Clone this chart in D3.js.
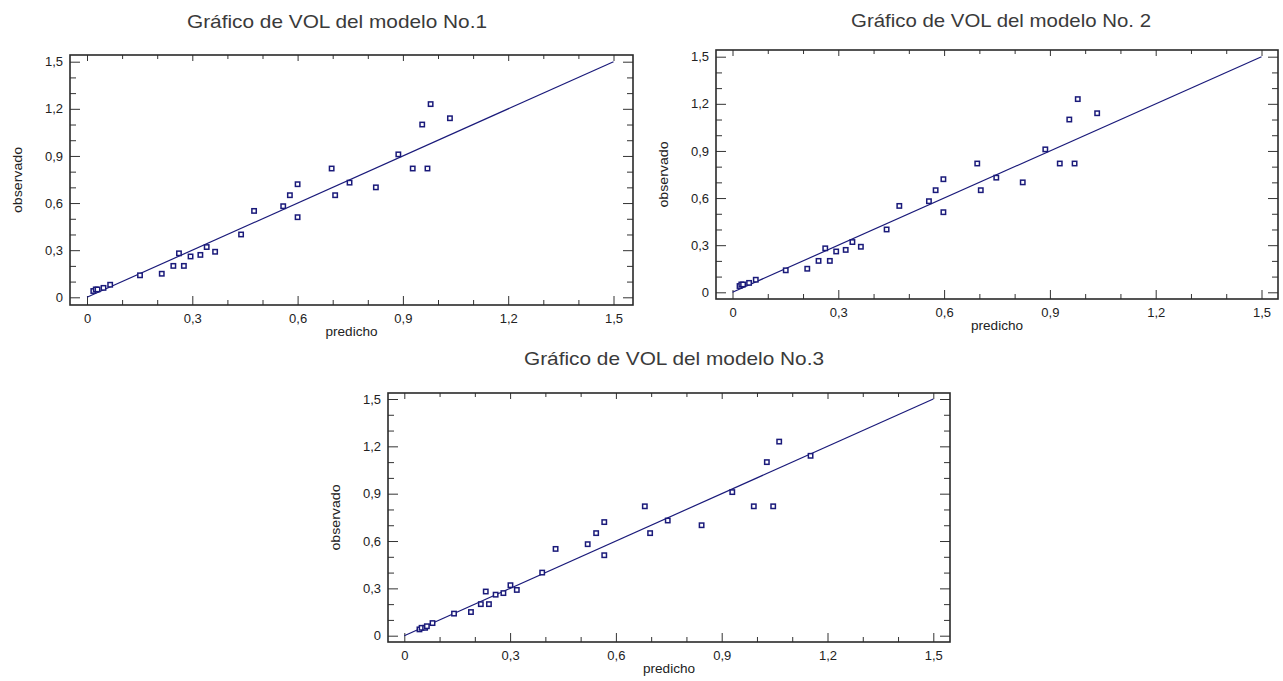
<!DOCTYPE html>
<html>
<head>
<meta charset="utf-8">
<script src="https://cdn.jsdelivr.net/npm/d3@7"></script>
<style>
  body { margin: 0; background: #fff; }
  svg { display: block; }
  text { font-family: "Liberation Sans", Arial, sans-serif; fill: #222; }
</style>
</head>
<body>
<svg id="chart" width="1283" height="681"></svg>
<script>
// observed values (same for all three models)
const observado = [0.04, 0.05, 0.05, 0.06, 0.08, 0.14, 0.15, 0.20, 0.28, 0.20, 0.26, 0.27, 0.32, 0.29, 0.40,
  0.55, 0.58, 0.65, 0.72, 0.51, 0.82, 0.65, 0.73, 0.70, 0.91, 0.82, 1.10, 0.82, 1.23, 1.14];

// predicted values per model
const predicho1 = [0.018, 0.025, 0.030, 0.047, 0.066, 0.151, 0.213, 0.246, 0.262, 0.276, 0.295, 0.323, 0.341, 0.365, 0.439,
  0.476, 0.559, 0.578, 0.600, 0.600, 0.697, 0.707, 0.748, 0.823, 0.887, 0.928, 0.955, 0.970, 0.979, 1.034];
const predicho2 = [0.020, 0.025, 0.030, 0.047, 0.066, 0.151, 0.212, 0.244, 0.263, 0.276, 0.294, 0.321, 0.340, 0.364, 0.437,
  0.473, 0.557, 0.576, 0.598, 0.598, 0.694, 0.704, 0.748, 0.823, 0.887, 0.928, 0.955, 0.970, 0.979, 1.034];
const predicho3 = [0.043, 0.049, 0.059, 0.064, 0.080, 0.141, 0.189, 0.217, 0.231, 0.240, 0.259, 0.281, 0.301, 0.319, 0.391,
  0.429, 0.520, 0.544, 0.567, 0.567, 0.682, 0.697, 0.747, 0.843, 0.930, 0.991, 1.028, 1.046, 1.063, 1.152];

const titles = ["Gráfico de VOL del modelo No.1", "Gráfico de VOL del modelo No. 2", "Gráfico de VOL del modelo No.3"];
const majorTicks = [0, 0.3, 0.6, 0.9, 1.2, 1.5];
const minorTicks = [0.1, 0.2, 0.4, 0.5, 0.7, 0.8, 1.0, 1.1, 1.3, 1.4];
const fitLine = [0, 1.5];

const panels = [
  { pred: predicho1, frame: [70, 55, 633, 305], x: [87, 613.5], y: [297.3, 61.7], title: [337, 28] },
  { pred: predicho2, frame: [716, 50, 1278, 299], x: [732.5, 1261.5], y: [292.3, 56.7], title: [1001, 27] },
  { pred: predicho3, frame: [388, 393, 950, 642], x: [404.3, 933.3], y: [635.7, 399], title: [674, 365] }
];

const fmt = d => d === 0 ? "0" : d.toFixed(1).replace(".", ",");
const ink = "#1a1a7a";

const svg = d3.select("#chart");

panels.forEach((p, i) => {
  const [fx0, fy0, fx1, fy1] = p.frame;
  const x = d3.scaleLinear().domain([0, 1.5]).range(p.x);
  const y = d3.scaleLinear().domain([0, 1.5]).range(p.y);
  const g = svg.append("g");

  // title
  g.append("text")
    .attr("x", p.title[0]).attr("y", p.title[1])
    .attr("text-anchor", "middle")
    .attr("textLength", 300).attr("lengthAdjust", "spacingAndGlyphs")
    .style("font-size", "19px")
    .style("fill", "#3a3a3a")
    .text(titles[i]);

  // axes: major ticks with labels, minor ticks without, all pointing inward
  const axisStyle = sel => {
    sel.select(".domain").remove();
    sel.selectAll("line").attr("stroke", "#333");
    sel.selectAll("text").style("font-size", "13px").style("font-family", "Liberation Sans, Arial, sans-serif").attr("fill", "#2a2a2a");
  };
  g.append("g").attr("transform", `translate(0,${fy1})`)
    .call(d3.axisBottom(x).tickValues(majorTicks).tickSize(-9).tickPadding(9).tickFormat(fmt)).call(axisStyle);
  g.append("g").attr("transform", `translate(0,${fy1})`)
    .call(d3.axisBottom(x).tickValues(minorTicks).tickSize(-5).tickFormat("")).call(axisStyle);
  g.append("g").attr("transform", `translate(0,${fy0})`)
    .call(d3.axisTop(x).tickValues(majorTicks).tickSize(-6).tickFormat("")).call(axisStyle);
  g.append("g").attr("transform", `translate(0,${fy0})`)
    .call(d3.axisTop(x).tickValues(minorTicks).tickSize(-4).tickFormat("")).call(axisStyle);
  g.append("g").attr("transform", `translate(${fx0},0)`)
    .call(d3.axisLeft(y).tickValues(majorTicks).tickSize(-10).tickPadding(7).tickFormat(fmt)).call(axisStyle);
  g.append("g").attr("transform", `translate(${fx0},0)`)
    .call(d3.axisLeft(y).tickValues(minorTicks).tickSize(-6).tickFormat("")).call(axisStyle);
  g.append("g").attr("transform", `translate(${fx1},0)`)
    .call(d3.axisRight(y).tickValues(majorTicks).tickSize(-10).tickFormat("")).call(axisStyle);
  g.append("g").attr("transform", `translate(${fx1},0)`)
    .call(d3.axisRight(y).tickValues(minorTicks).tickSize(-6).tickFormat("")).call(axisStyle);

  // frame
  g.append("rect")
    .attr("x", fx0).attr("y", fy0)
    .attr("width", fx1 - fx0).attr("height", fy1 - fy0)
    .attr("fill", "none").attr("stroke", "#2a2a2a").attr("stroke-width", 1.6);

  // axis titles
  g.append("text")
    .attr("x", (fx0 + fx1) / 2).attr("y", fy1 + 31)
    .attr("text-anchor", "middle")
    .attr("textLength", 52).attr("lengthAdjust", "spacingAndGlyphs")
    .style("font-size", "13px")
    .text("predicho");
  g.append("text")
    .attr("transform", `translate(${fx0 - 48},${(fy0 + fy1) / 2}) rotate(-90)`)
    .attr("text-anchor", "middle")
    .attr("textLength", 66).attr("lengthAdjust", "spacingAndGlyphs")
    .style("font-size", "13px")
    .text("observado");

  // 45 degree line
  g.append("line")
    .attr("x1", x(fitLine[0])).attr("y1", y(fitLine[0]))
    .attr("x2", x(fitLine[1])).attr("y2", y(fitLine[1]))
    .attr("stroke", ink).attr("stroke-width", 1.2);

  // points
  g.selectAll("rect.pt")
    .data(p.pred.map((v, k) => [v, observado[k]]))
    .enter()
    .append("rect")
    .attr("class", "pt")
    .attr("x", d => x(d[0]) - 2.2)
    .attr("y", d => y(d[1]) - 2.2)
    .attr("width", 4.4).attr("height", 4.4)
    .attr("fill", "#fff").attr("stroke", ink).attr("stroke-width", 1.5);
});
</script>
</body>
</html>
